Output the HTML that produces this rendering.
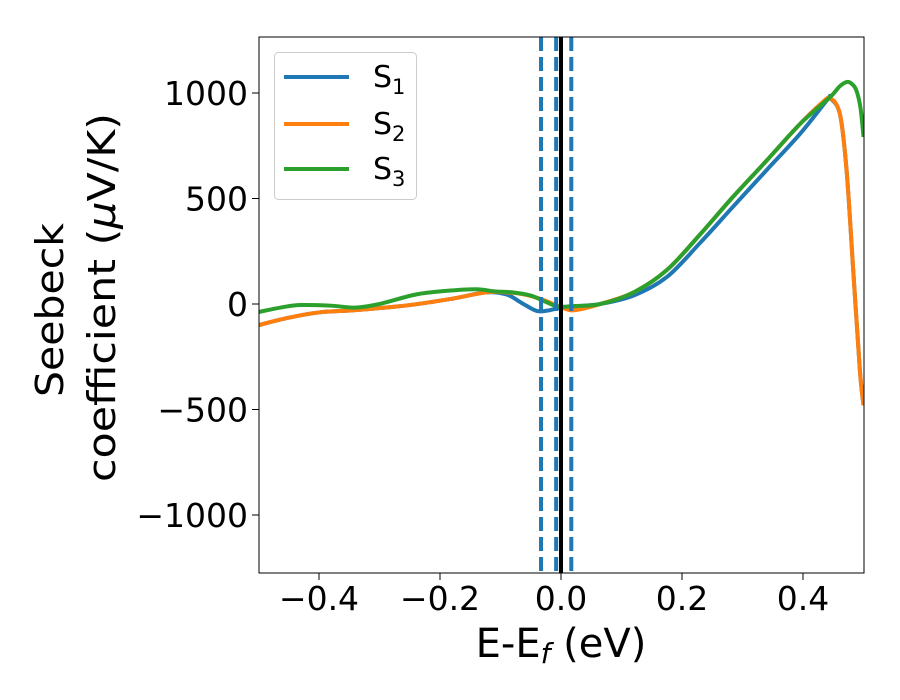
<!DOCTYPE html>
<html><head><meta charset="utf-8">
<style>
body{margin:0;background:#fff;}
svg text{font-family:"DejaVu Sans","Liberation Sans",sans-serif;fill:#000;}
</style></head>
<body>
<svg id="chart" width="900" height="700" viewBox="0 0 900 700" xmlns="http://www.w3.org/2000/svg" style="position:absolute;left:0;top:0">
<rect width="900" height="700" fill="#fff"/>
<defs><clipPath id="pc"><rect x="259" y="37" width="605" height="536"/></clipPath></defs>
<g id="plot" clip-path="url(#pc)"></g>
<g id="axes"></g>
</svg>
<script>
const xTicks=[-0.4,-0.2,0.0,0.2,0.4];
const xTickLabels=["\u22120.4","\u22120.2","0.0","0.2","0.4"];
const yTicks=[-1000,-500,0,500,1000];
const yTickLabels=["\u22121000","\u2212500","0","500","1000"];
const s1x=[-0.5,-0.45,-0.4,-0.334,-0.25,-0.18,-0.124,-0.09,-0.065,-0.04,-0.02,-0.005,0.02,0.065,0.12,0.175,0.23,0.284,0.34,0.395,0.44,0.445,0.461,0.472,0.483,0.494,0.5];
const s1y=[-100,-65,-40,-28,-5,25,55,45,5,-33,-30,-20,-12,0,40,128,290,460,635,806,967,975,900,635,161,-313,-480];
const s2x=[-0.5,-0.45,-0.4,-0.334,-0.25,-0.18,-0.124,-0.09,-0.06,-0.03,0,0.018,0.04,0.065,0.12,0.175,0.23,0.284,0.34,0.395,0.43,0.445,0.461,0.472,0.483,0.494,0.5];
const s2y=[-100,-65,-40,-28,-5,25,55,55,45,20,-15,-30,-20,0,55,161,330,507,680,853,950,975,900,635,161,-313,-480];
const s3x=[-0.5,-0.46,-0.43,-0.38,-0.34,-0.3,-0.24,-0.19,-0.14,-0.11,-0.08,-0.05,-0.025,-0.005,0.02,0.065,0.12,0.175,0.23,0.284,0.34,0.395,0.445,0.46,0.472,0.48,0.488,0.495,0.5];
const s3y=[-38,-15,-5,-8,-17,0,45,62,70,60,55,40,10,-12,-10,0,55,161,330,507,680,853,981,1030,1052,1045,1014,930,792];
const vDashed=[-0.033,-0.008,0.017];
const vSolid=[0.0];

const X0=258.5,X1=863.5,XMIN=-0.5,XMAX=0.5;
const YZ=304,YK=0.211;
function sx(v){return X0+(v-XMIN)/(XMAX-XMIN)*(X1-X0);}
function sy(v){return YZ-v*YK;}
const NS="http://www.w3.org/2000/svg";
function mk(t,a,p){const e=document.createElementNS(NS,t);for(const k in a)e.setAttribute(k,a[k]);p.appendChild(e);return e;}
function pathFrom(xs,ys){
  const P=xs.map((x,i)=>[sx(x),sy(ys[i])]);
  let d="M"+P[0][0]+","+P[0][1];
  for(let i=0;i<P.length-1;i++){
    const p0=P[i-1]||P[i],p1=P[i],p2=P[i+1],p3=P[i+2]||P[i+1];
    const c1=[p1[0]+(p2[0]-p0[0])/6,p1[1]+(p2[1]-p0[1])/6];
    const c2=[p2[0]-(p3[0]-p1[0])/6,p2[1]-(p3[1]-p1[1])/6];
    d+=" C"+c1[0]+","+c1[1]+" "+c2[0]+","+c2[1]+" "+p2[0]+","+p2[1];
  }
  return d;
}
const plot=document.getElementById('plot'),axes=document.getElementById('axes');
const series=[[s1x,s1y,"#1f77b4","series-s1"],[s2x,s2y,"#ff7f0e","series-s2"],[s3x,s3y,"#2ca02c","series-s3"]];
series.forEach(s=>{
  const el=mk('path',{d:pathFrom(s[0],s[1]),fill:"none",stroke:s[2],"stroke-width":4,"stroke-linejoin":"round"},plot);
  
  
});
vDashed.forEach(v=>{
  const el=mk('line',{x1:sx(v),x2:sx(v),y1:37,y2:573,stroke:"#1f77b4","stroke-width":4,"stroke-dasharray":"14,6"},plot);
  
  
});
vSolid.forEach(v=>{
  const el=mk('line',{x1:sx(v),x2:sx(v),y1:37,y2:573,stroke:"#000","stroke-width":4},plot);
  
  
});
const frame=mk('rect',{x:259,y:37,width:605,height:536,fill:"none",stroke:"#000","stroke-width":1},axes);


xTicks.forEach((v,i)=>{
  mk('line',{x1:sx(v),x2:sx(v),y1:573,y2:580,stroke:"#000","stroke-width":1},axes);
  const t=mk('text',{x:sx(v),y:610,"text-anchor":"middle","font-size":"33"},axes);
  t.textContent=xTickLabels[i];
  
  
});
yTicks.forEach((v,i)=>{
  mk('line',{x1:252,x2:259,y1:sy(v),y2:sy(v),stroke:"#000","stroke-width":1},axes);
  const t=mk('text',{x:248,y:sy(v)+12,"text-anchor":"end","font-size":"33"},axes);
  t.textContent=yTickLabels[i];
  
  
});
</script>
<svg style="position:absolute;left:0;top:0" width="900" height="700">
<text x="561" y="657" text-anchor="middle" font-size="40" font-family="DejaVu Sans, Liberation Sans, sans-serif">E-E<tspan font-style="italic" font-size="28" dy="6">f</tspan><tspan dy="-6"> (eV)</tspan></text>
<g>
<text transform="translate(63,397) rotate(-90)" x="0" y="0" font-size="38" textLength="174" lengthAdjust="spacingAndGlyphs" font-family="DejaVu Sans, Liberation Sans, sans-serif">Seebeck</text>
<text transform="translate(115,482) rotate(-90)" x="0" y="0" font-size="38" textLength="369" lengthAdjust="spacingAndGlyphs" font-family="DejaVu Sans, Liberation Sans, sans-serif">coefficient  (<tspan font-style="italic">μ</tspan>V/K)</text>
</g>
<g>
<rect x="274.5" y="52.5" width="142" height="147" rx="4" fill="#fff" fill-opacity="0.8" stroke="#ccc" stroke-width="1"/>
<line x1="284" x2="349" y1="77" y2="77" stroke="#1f77b4" stroke-width="4"/>
<line x1="284" x2="349" y1="124" y2="124" stroke="#ff7f0e" stroke-width="4"/>
<line x1="284" x2="349" y1="169" y2="169" stroke="#2ca02c" stroke-width="4"/>
<text x="373" y="87" font-size="30" font-family="DejaVu Sans, Liberation Sans, sans-serif">S<tspan font-size="21" dy="7">1</tspan></text>
<text x="373" y="134" font-size="30" font-family="DejaVu Sans, Liberation Sans, sans-serif">S<tspan font-size="21" dy="7">2</tspan></text>
<text x="373" y="179" font-size="30" font-family="DejaVu Sans, Liberation Sans, sans-serif">S<tspan font-size="21" dy="7">3</tspan></text>
</g>
</svg>
</body></html>
